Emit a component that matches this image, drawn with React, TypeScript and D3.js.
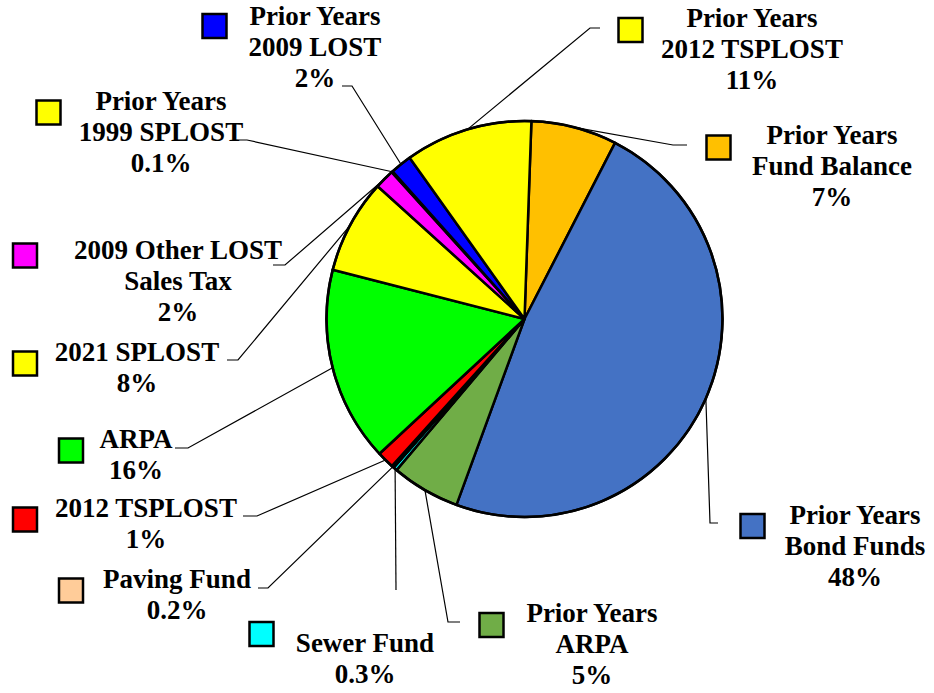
import React from "react";
import * as d3 from "d3";

// ---- data ----
const categories = [
  "Prior Years Fund Balance",
  "Prior Years Bond Funds",
  "Prior Years ARPA",
  "Sewer Fund",
  "Paving Fund",
  "2012 TSPLOST",
  "ARPA",
  "2021 SPLOST",
  "2009 Other LOST Sales Tax",
  "Prior Years 1999 SPLOST",
  "Prior Years 2009 LOST",
  "Prior Years 2012 TSPLOST",
];
const values = [7.0, 48.0, 5.6, 0.3, 0.2, 1.4, 15.9, 7.7, 1.6, 0.1, 1.75, 10.4];
const percentLabels = ["7%", "48%", "5%", "0.3%", "0.2%", "1%", "16%", "8%", "2%", "0.1%", "2%", "11%"];
const labelLines = [
  ["Prior Years", "Fund Balance"],
  ["Prior Years", "Bond Funds"],
  ["Prior Years", "ARPA"],
  ["Sewer Fund"],
  ["Paving Fund"],
  ["2012 TSPLOST"],
  ["ARPA"],
  ["2021 SPLOST"],
  ["2009 Other LOST", "Sales Tax"],
  ["Prior Years", "1999 SPLOST"],
  ["Prior Years", "2009 LOST"],
  ["Prior Years", "2012 TSPLOST"],
];
const colors = [
  "#FFC000", "#4472C4", "#70AD47", "#00FFFF", "#FFCC99", "#FF0000",
  "#00FF00", "#FFFF00", "#FF00FF", "#FFFF00", "#0000FF", "#FFFF00",
];

// ---- layout (positions only) ----
// box: marker centre, tx/ty: text centre x and first baseline, lp: line start, el: elbow
const layout = [
  { box: [718.5, 147.5], tx: 832, ty: 144, lp: [687, 145], el: [673, 145] },
  { box: [752.5, 526], tx: 855, ty: 524, lp: [718, 523], el: [710, 523] },
  { box: [491.5, 625], tx: 592, ty: 622, lp: [460, 622], el: [448, 622] },
  { box: [261.5, 634], tx: 365, ty: 652, lp: [396, 590], el: [396, 590] },
  { box: [71, 590.5], tx: 177, ty: 588, lp: [258, 588], el: [268, 588] },
  { box: [25, 519.5], tx: 146, ty: 517, lp: [243, 516], el: [257, 516] },
  { box: [71, 450.5], tx: 136, ty: 448, lp: [175, 448], el: [188, 448] },
  { box: [25, 363.5], tx: 137, ty: 361, lp: [227, 360], el: [238, 360] },
  { box: [25, 255.5], tx: 178, ty: 259, lp: [273, 265], el: [285, 265] },
  { box: [48.5, 112.5], tx: 161, ty: 110, lp: [235, 140], el: [247, 140] },
  { box: [214.5, 26], tx: 315, ty: 25, lp: [342, 86], el: [352, 86] },
  { box: [630.5, 30], tx: 752, ty: 27, lp: [600, 28], el: [590, 28] },
];

const W = 934;
const H = 693;
const cx = 524.5;
const cy = 319;
const R = 198;
const startOffset = (2 * Math.PI) / 180;
const lineH = 31.2;

export default function App() {
  const pie = d3
    .pie<number>()
    .sort(null)
    .value((d) => d)
    .startAngle(startOffset)
    .endAngle(startOffset + 2 * Math.PI);
  const arcs = pie(values);
  const arcGen = d3.arc<d3.PieArcDatum<number>>().innerRadius(0).outerRadius(R);

  return (
    <svg
      width={W}
      height={H}
      style={{ position: "absolute", left: 0, top: 0, background: "#fff" }}
    >
      <g transform={`translate(${cx},${cy})`}>
        {arcs.map((a, i) => (
          <path
            key={i}
            d={arcGen(a) || ""}
            fill={colors[i]}
            stroke="#000"
            strokeWidth={2.5}
            strokeLinejoin="round"
          />
        ))}
        <circle r={R} fill="none" stroke="#000" strokeWidth={2.5} />
      </g>
      {arcs.map((a, i) => {
        const mid = (a.startAngle + a.endAngle) / 2;
        const px = cx + R * Math.sin(mid);
        const py = cy - R * Math.cos(mid);
        const L = layout[i];
        const pts = [L.lp, L.el, [px, py]];
        return (
          <polyline
            key={"l" + i}
            points={pts.map((p) => p.join(",")).join(" ")}
            fill="none"
            stroke="#000"
            strokeWidth={1.2}
          />
        );
      })}
      {categories.map((c, i) => {
        const L = layout[i];
        const lines = [...labelLines[i], percentLabels[i]];
        return (
          <g key={"t" + i}>
            <rect
              x={L.box[0] - 12}
              y={L.box[1] - 12}
              width={24}
              height={24}
              fill={colors[i]}
              stroke="#000"
              strokeWidth={2.5}
            />
            <text
              textAnchor="middle"
              fontFamily="'Liberation Serif', 'Times New Roman', serif"
              fontWeight="bold"
              fontSize={27}
              fill="#000"
            >
              {lines.map((ln, j) => (
                <tspan key={j} x={L.tx} y={L.ty + j * lineH}>
                  {ln}
                </tspan>
              ))}
            </text>
          </g>
        );
      })}
    </svg>
  );
}
